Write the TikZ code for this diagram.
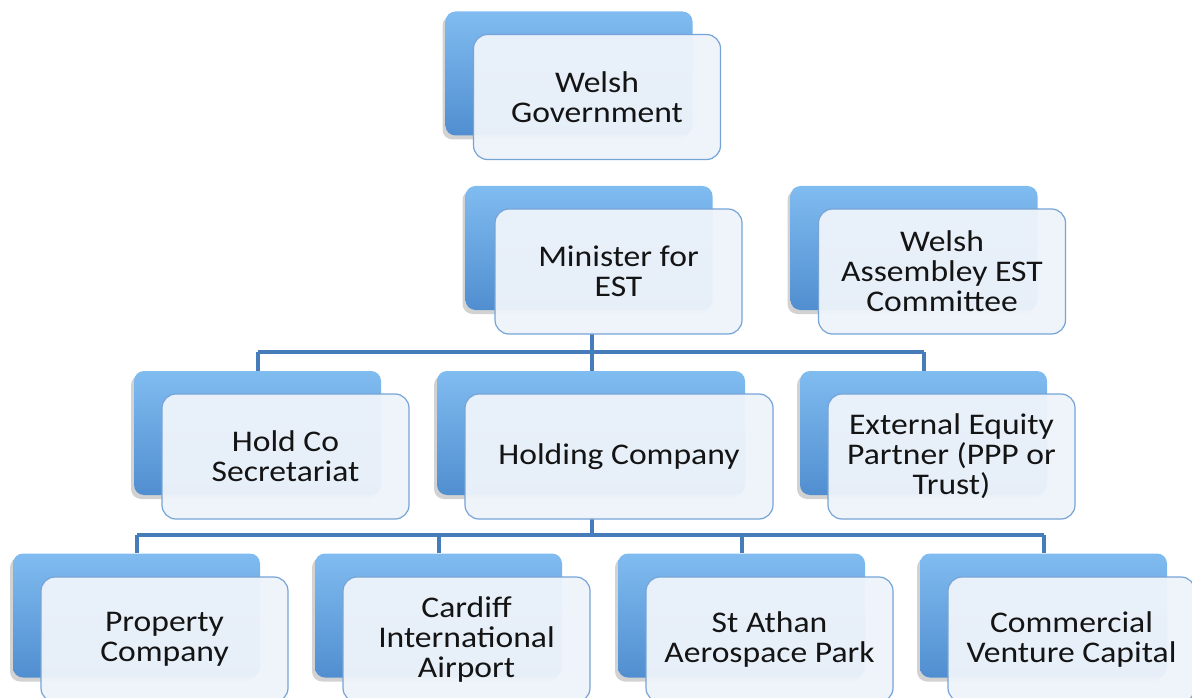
\documentclass[tikz,border=0pt]{standalone}
\usepackage{fontspec}
\setmainfont{Carlito}
\usetikzlibrary{shadows}

\definecolor{backtop}{RGB}{128,188,240}
\definecolor{backmid}{RGB}{94,160,224}
\definecolor{backbot}{RGB}{80,142,208}
\definecolor{frontfill}{RGB}{239,244,251}
\definecolor{frontline}{RGB}{118,164,214}
\definecolor{linkline}{RGB}{70,124,186}

\tikzset{
  backbox/.style={rounded corners=10pt, minimum width=247pt, minimum height=124pt, inner sep=0pt,
    top color=backtop, middle color=backmid, bottom color=backbot,
    drop shadow={shadow xshift=-3pt, shadow yshift=-4pt, opacity=0.35}},
  frontbox/.style={rounded corners=14pt, minimum width=247pt, minimum height=125pt, inner sep=0pt,
    fill=frontfill, fill opacity=0.95, text opacity=1, draw=frontline, line width=1.2pt,
    align=center, text=black!92, font=\fontsize{30}{30}\selectfont\addfontfeature{FakeStretch=1.12}},
  link/.style={draw=linkline, line width=3.2pt}
}

\begin{document}
\begin{tikzpicture}[x=1pt, y=-1pt]
	\useasboundingbox[fill=white] (0,0) rectangle (1192,698);
	
	% top row
	\node[backbox](govb) at (569,73.5) {};
	\node[frontbox](govf) at (597,97) {Welsh\\Government};
	
	% connectors
	\coordinate(minbar) at (592,352);
	\coordinate(holdbar) at (592,535);
	\draw[link](592,332) -- (minbar);
	\draw[link](258,352) -- (924,352);
	\draw[link](258,352) -- (258,371);
	\draw[link](minbar) -- (592,371);
	\draw[link](924,352) -- (924,371);
	\draw[link](592,517) -- (holdbar);
	\draw[link](137,535) -- (1044,535);
	\draw[link](137,535) -- (137,553);
	\draw[link](439,535) -- (439,553);
	\draw[link](742,535) -- (742,553);
	\draw[link](1044,535) -- (1044,553);
	
	% ministers row
	\node[backbox](minb) at (589,248) {};
	\node[frontbox](minf) at (618.5,271.5) {Minister for\\EST};
	\node[backbox](comb) at (914,248) {};
	\node[frontbox](comf) at (942,271.5) {Welsh\\Assembley EST\\Committee};
	
	% companies row
	\node[backbox](secb) at (257.5,433) {};
	\node[frontbox](secf) at (285.5,456.5) {Hold Co\\Secretariat};
	\node[backbox, minimum width=308pt](holdb) at (591,433) {};
	\node[frontbox, minimum width=308pt](holdf) at (619,456.5) {Holding Company};
	\node[backbox](extb) at (923.5,433) {};
	\node[frontbox](extf) at (951.5,456.5) {External Equity\\Partner (PPP or\\Trust)};
	
	% subsidiaries row
	\node[backbox](propb) at (136.5,615.5) {};
	\node[frontbox](propf) at (164.5,639.5) {Property\\Company};
	\node[backbox](cardb) at (438.5,615.5) {};
	\node[frontbox](cardf) at (466.5,639.5) {Cardiff\\International\\Airport};
	\node[backbox](athb) at (741.5,615.5) {};
	\node[frontbox](athf) at (769.5,639.5) {St Athan\\Aerospace Park};
	\node[backbox](vcb) at (1043.5,615.5) {};
	\node[frontbox](vcf) at (1071.5,639.5) {Commercial\\Venture Capital};
\end{tikzpicture}
\end{document}
